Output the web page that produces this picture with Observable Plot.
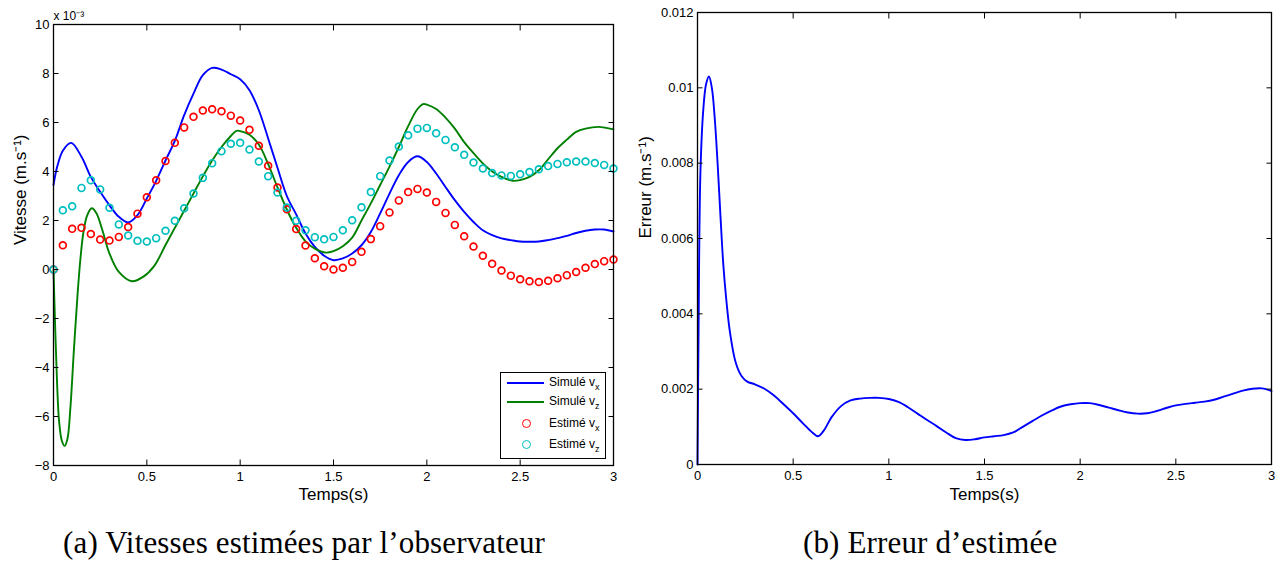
<!DOCTYPE html>
<html>
<head>
<meta charset="utf-8">
<script src="https://cdn.jsdelivr.net/npm/d3@7"></script>
<script src="https://cdn.jsdelivr.net/npm/@observablehq/plot@0.6"></script>
<style>
  body { margin: 0; background: #fff; }
  #fig { position: relative; width: 1288px; height: 565px; overflow: hidden; background: #fff; }
  #chartA { position: absolute; left: 0; top: 0; }
  #chartB { position: absolute; left: 630px; top: 0; }
  .legend { position: absolute; left: 500px; top: 372px; width: 104px; height: 85px; border: 1px solid #000; background: #fff;
            font-family: "Liberation Sans", Arial, sans-serif; font-size: 12px; color: #000; }
  .legend .row { position: absolute; left: 0; width: 104px; height: 18px; }
  .legend .sw-line { position: absolute; left: 6px; width: 37px; top: 8px; height: 0; border-top: 2px solid; }
  .legend .sw-dot { position: absolute; left: 21px; top: 4px; width: 7px; height: 7px; border: 1.7px solid; border-radius: 50%; box-sizing: content-box; }
  .legend .lab { position: absolute; left: 48px; top: 1px; white-space: nowrap; line-height: 14px; }
  .legend sub { font-size: 9px; vertical-align: -4px; line-height: 0; }
  .caption { position: absolute; top: 527px; font-family: "Liberation Serif", "Times New Roman", serif; font-size: 31px; line-height: 31px; color: #000; white-space: nowrap; letter-spacing: 0.15px; }
</style>
</head>
<body>
<div id="fig">
  <div id="chartA"></div>
  <div id="chartB"></div>
</div>
<script>
// ---------- Data (a): velocities, in units of 1e-3 m/s ----------
const simVxT = [0, 0.02, 0.05, 0.095, 0.15, 0.2, 0.25, 0.3, 0.35, 0.4, 0.45, 0.5, 0.55, 0.6, 0.65, 0.7, 0.75, 0.8, 0.85, 0.9, 0.95, 1.0, 1.05, 1.1, 1.15, 1.2, 1.25, 1.3, 1.35, 1.4, 1.45, 1.5, 1.55, 1.6, 1.65, 1.7, 1.75, 1.8, 1.85, 1.9, 1.95, 2.0, 2.05, 2.1, 2.15, 2.2, 2.25, 2.3, 2.35, 2.4, 2.45, 2.5, 2.55, 2.6, 2.65, 2.7, 2.75, 2.8, 2.85, 2.9, 2.95, 3.0];
const simVx  = [3.45, 4.2, 4.85, 5.17, 4.6, 3.78, 3.17, 2.62, 2.15, 1.92, 2.22, 2.9, 3.62, 4.45, 5.25, 6.3, 7.18, 7.93, 8.23, 8.16, 7.97, 7.77, 7.32, 6.5, 5.35, 4.15, 3.0, 2.25, 1.47, 0.92, 0.56, 0.38, 0.45, 0.65, 0.99, 1.53, 2.29, 3.1, 3.85, 4.39, 4.62, 4.39, 3.92, 3.37, 2.83, 2.35, 1.94, 1.6, 1.4, 1.27, 1.2, 1.14, 1.13, 1.14, 1.2, 1.28, 1.37, 1.49, 1.58, 1.63, 1.63, 1.55];

const simVzT = [0, 0.01, 0.02, 0.03, 0.045, 0.06, 0.075, 0.09, 0.11, 0.13, 0.145, 0.16, 0.18, 0.205, 0.23, 0.26, 0.3, 0.35, 0.42, 0.48, 0.54, 0.6, 0.65, 0.7, 0.75, 0.8, 0.85, 0.9, 0.95, 0.98, 1.0, 1.05, 1.1, 1.15, 1.2, 1.25, 1.3, 1.35, 1.4, 1.46, 1.5, 1.55, 1.6, 1.65, 1.7, 1.75, 1.8, 1.85, 1.9, 1.95, 1.98, 2.0, 2.05, 2.1, 2.15, 2.2, 2.25, 2.3, 2.35, 2.4, 2.46, 2.5, 2.55, 2.6, 2.65, 2.7, 2.75, 2.8, 2.85, 2.92, 3.0];
const simVz  = [0, -2.6, -4.8, -6.2, -7.0, -7.2, -6.9, -5.7, -3.2, -0.9, 0.5, 1.5, 2.2, 2.5, 2.3, 1.65, 0.65, -0.1, -0.48, -0.3, 0.15, 1.0, 1.7, 2.4, 3.1, 3.8, 4.45, 5.0, 5.45, 5.66, 5.65, 5.5, 5.1, 4.3, 3.35, 2.45, 1.7, 1.15, 0.85, 0.69, 0.75, 0.95, 1.3, 2.0, 2.7, 3.45, 4.2, 5.0, 5.85, 6.55, 6.75, 6.73, 6.55, 6.2, 5.75, 5.2, 4.75, 4.33, 4.0, 3.78, 3.62, 3.65, 3.78, 4.05, 4.5, 4.95, 5.3, 5.62, 5.75, 5.82, 5.72];

const estT = [0, 0.05, 0.1, 0.15, 0.2, 0.25, 0.3, 0.35, 0.4, 0.45, 0.5, 0.55, 0.6, 0.65, 0.7, 0.75, 0.8, 0.85, 0.9, 0.95, 1.0, 1.05, 1.1, 1.15, 1.2, 1.25, 1.3, 1.35, 1.4, 1.45, 1.5, 1.55, 1.6, 1.65, 1.7, 1.75, 1.8, 1.85, 1.9, 1.95, 2.0, 2.05, 2.1, 2.15, 2.2, 2.25, 2.3, 2.35, 2.4, 2.45, 2.5, 2.55, 2.6, 2.65, 2.7, 2.75, 2.8, 2.85, 2.9, 2.95, 3.0];
const estVx = [0, 0.99, 1.66, 1.70, 1.45, 1.22, 1.18, 1.33, 1.73, 2.28, 2.95, 3.64, 4.43, 5.17, 5.80, 6.23, 6.49, 6.54, 6.46, 6.28, 6.08, 5.70, 5.05, 4.23, 3.35, 2.46, 1.65, 0.98, 0.46, 0.13, 0.00, 0.07, 0.31, 0.72, 1.24, 1.77, 2.33, 2.82, 3.16, 3.29, 3.14, 2.76, 2.31, 1.82, 1.36, 0.94, 0.56, 0.23, -0.04, -0.25, -0.40, -0.48, -0.51, -0.46, -0.36, -0.23, -0.10, 0.07, 0.22, 0.34, 0.41];
const estVz = [0, 2.42, 2.58, 3.33, 3.64, 3.27, 2.52, 1.84, 1.39, 1.17, 1.14, 1.28, 1.58, 1.99, 2.50, 3.10, 3.74, 4.34, 4.83, 5.13, 5.17, 4.90, 4.41, 3.81, 3.14, 2.53, 1.99, 1.60, 1.32, 1.23, 1.33, 1.60, 2.01, 2.54, 3.16, 3.81, 4.45, 5.02, 5.48, 5.75, 5.78, 5.56, 5.29, 4.99, 4.68, 4.37, 4.12, 3.94, 3.84, 3.82, 3.89, 3.98, 4.09, 4.22, 4.31, 4.38, 4.41, 4.41, 4.35, 4.27, 4.12];

// ---------- Data (b): estimation error, m/s ----------
const errT = [0, 0.005, 0.015, 0.03, 0.045, 0.06, 0.075, 0.09, 0.105, 0.12, 0.135, 0.15, 0.17, 0.2, 0.23, 0.26, 0.3, 0.35, 0.4, 0.45, 0.5, 0.55, 0.6, 0.63, 0.66, 0.7, 0.75, 0.8, 0.85, 0.9, 0.95, 1.0, 1.05, 1.1, 1.15, 1.2, 1.25, 1.3, 1.35, 1.4, 1.45, 1.5, 1.55, 1.6, 1.65, 1.7, 1.75, 1.8, 1.85, 1.9, 1.95, 2.0, 2.05, 2.1, 2.15, 2.2, 2.25, 2.3, 2.35, 2.4, 2.45, 2.5, 2.55, 2.6, 2.65, 2.7, 2.75, 2.8, 2.85, 2.9, 2.95, 3.0];
const errV = [0, 0.0032, 0.0077, 0.0094, 0.0101, 0.0103, 0.0100, 0.0092, 0.0080, 0.0066, 0.0053, 0.0044, 0.0035, 0.0027, 0.00235, 0.0022, 0.00213, 0.00201, 0.00183, 0.0016, 0.00136, 0.0011, 0.00085, 0.00075, 0.0009, 0.00125, 0.00155, 0.0017, 0.00175, 0.00177, 0.00177, 0.00174, 0.00166, 0.00152, 0.00135, 0.00118, 0.00102, 0.00085, 0.0007, 0.00065, 0.00067, 0.00072, 0.00075, 0.00078, 0.00085, 0.001, 0.00115, 0.0013, 0.00143, 0.00154, 0.0016, 0.00163, 0.00163, 0.00158, 0.00151, 0.00144, 0.00138, 0.00135, 0.00136, 0.00142, 0.0015, 0.00157, 0.00161, 0.00164, 0.00167, 0.00172, 0.0018, 0.00188, 0.00196, 0.00201, 0.00202, 0.00195];

// ---------- Ticks and labels ----------
const xTicks = [0, 0.5, 1, 1.5, 2, 2.5, 3];
const yTicksA = [-8, -6, -4, -2, 0, 2, 4, 6, 8, 10];
const yTicksB = [0, 0.002, 0.004, 0.006, 0.008, 0.01, 0.012];
const xLabel = "Temps(s)";
const yLabelA = "Vitesse (m.s\u207B\u00B9)";
const yLabelB = "Erreur (m.s\u207B\u00B9)";
const expLabel = "x 10\u207B\u00B3";
const legendNames = ["Simul\u00e9 v", "Simul\u00e9 v", "Estim\u00e9 v", "Estim\u00e9 v"];
const legendSubs = ["x", "z", "x", "z"];
const legendKinds = ["line", "line", "dot", "dot"];
const seriesColors = ["#0000ff", "#008000", "#ff0000", "#00bfbf"];
const captionA = "(a) Vitesses estim\u00e9es par l\u2019observateur";
const captionB = "(b) Erreur d\u2019estim\u00e9e";

const zip = (T, V) => T.map((t, i) => ({t, v: V[i]}));
const fmtX = d3.format("~g");
const fmtB = d => String(+d.toFixed(4));
const font = "'Liberation Sans', Arial, Helvetica, sans-serif";
const TK = -5.5;

function frameAxes(xT, yT, yFmt) {
  return [
    Plot.frame({stroke: "#000", strokeWidth: 1.3}),
    Plot.axisX({ticks: xT, anchor: "bottom", tickSize: TK, fill: "none", label: null, strokeWidth: 1}),
    Plot.axisX({ticks: xT, anchor: "top", tickSize: TK, fill: "none", label: null, strokeWidth: 1}),
    Plot.axisY({ticks: yT, anchor: "left", tickSize: TK, fill: "none", label: null, strokeWidth: 1}),
    Plot.axisY({ticks: yT, anchor: "right", tickSize: TK, fill: "none", label: null, strokeWidth: 1}),
    Plot.axisX({ticks: xT, anchor: "bottom", tickSize: 0, tickPadding: 6, tickFormat: fmtX, label: null, fontSize: 13}),
    Plot.axisY({ticks: yT, anchor: "left", tickSize: 0, tickPadding: 4, tickFormat: yFmt, label: null, fontSize: 13})
  ];
}

const chartA = Plot.plot({
  width: 630, height: 510,
  marginLeft: 53, marginRight: 17, marginTop: 24, marginBottom: 45,
  x: {domain: [0, 3]},
  y: {domain: [-8, 10]},
  style: {fontFamily: font, fontSize: "13px", color: "#000", background: "#fff"},
  marks: [
    Plot.line(zip(simVxT, simVx), {x: "t", y: "v", stroke: seriesColors[0], strokeWidth: 1.9, curve: "catmull-rom"}),
    Plot.line(zip(simVzT, simVz), {x: "t", y: "v", stroke: seriesColors[1], strokeWidth: 1.9, curve: "catmull-rom"}),
    Plot.dot(zip(estT, estVx), {x: "t", y: "v", stroke: seriesColors[2], r: 3.4, strokeWidth: 1.7, fill: "none"}),
    Plot.dot(zip(estT, estVz), {x: "t", y: "v", stroke: seriesColors[3], r: 3.4, strokeWidth: 1.7, fill: "none"}),
    ...frameAxes(xTicks, yTicksA, d => d3.format("~g")(d).replace("-", "\u2212")),
    Plot.text([xLabel], {frameAnchor: "bottom", dy: 34, fontSize: 17}),
    Plot.text([yLabelA], {frameAnchor: "left", rotate: -90, dx: -33, fontSize: 17}),
    Plot.text([expLabel], {frameAnchor: "top-left", textAnchor: "start", lineAnchor: "bottom", dy: -5, fontSize: 12})
  ]
});
document.getElementById("chartA").append(chartA);

const chartB = Plot.plot({
  width: 658, height: 510,
  marginLeft: 67, marginRight: 17, marginTop: 12, marginBottom: 46,
  x: {domain: [0, 3]},
  y: {domain: [0, 0.012]},
  style: {fontFamily: font, fontSize: "13px", color: "#000", background: "#fff"},
  marks: [
    Plot.line(zip(errT, errV), {x: "t", y: "v", stroke: seriesColors[0], strokeWidth: 1.9, curve: "catmull-rom"}),
    ...frameAxes(xTicks, yTicksB, fmtB),
    Plot.text([xLabel], {frameAnchor: "bottom", dy: 35, fontSize: 17}),
    Plot.text([yLabelB], {frameAnchor: "left", rotate: -90, dx: -52, fontSize: 17})
  ]
});
document.getElementById("chartB").append(chartB);

// ---------- Legend ----------
const fig = document.getElementById("fig");
const legend = document.createElement("div");
legend.className = "legend";
const rowTops = [1, 20, 42, 63];
legendNames.forEach((name, i) => {
  const row = document.createElement("div");
  row.className = "row";
  row.style.top = rowTops[i] + "px";
  const sw = document.createElement("div");
  sw.className = legendKinds[i] === "line" ? "sw-line" : "sw-dot";
  sw.style.borderColor = seriesColors[i];
  row.append(sw);
  const lab = document.createElement("span");
  lab.className = "lab";
  lab.innerHTML = name + "<sub>" + legendSubs[i] + "</sub>";
  row.append(lab);
  legend.append(row);
});
fig.append(legend);

// ---------- Captions ----------
[[captionA, 63], [captionB, 803]].forEach(([txt, left]) => {
  const c = document.createElement("div");
  c.className = "caption";
  c.style.left = left + "px";
  c.textContent = txt;
  fig.append(c);
});
</script>
</body>
</html>
